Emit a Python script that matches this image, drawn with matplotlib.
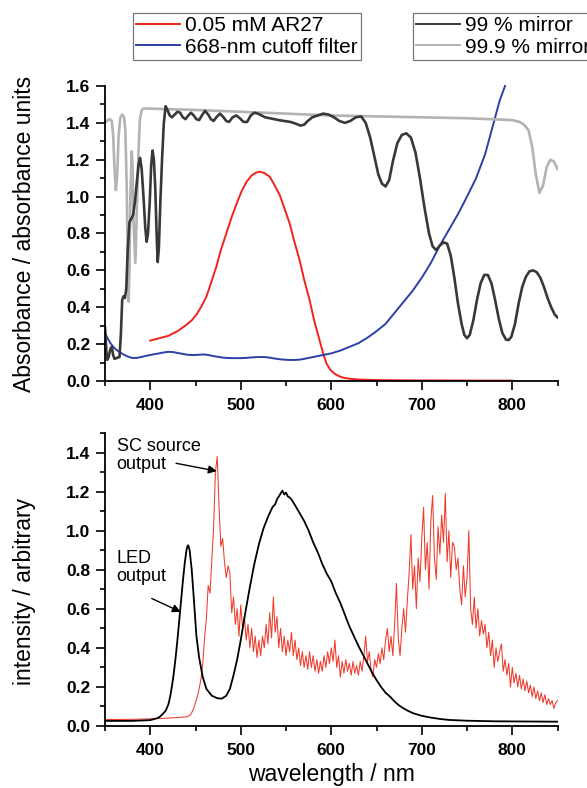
import numpy as np
import matplotlib
matplotlib.use("Agg")
import matplotlib.pyplot as plt

plt.rcParams['font.family'] = ['Liberation Sans', 'DejaVu Sans']

# ---- top panel: absorbance spectra (wavelength nm, absorbance) ----
mirror99_wl = [350, 351.5, 352.5, 354, 356, 357.5, 359, 360.5, 363, 366, 367.5, 369, 370.5, 372,
               373.5, 375, 377, 379, 381, 383, 385, 387, 388.7, 390.5, 392.5, 394.5, 396,
               397.5, 399.5, 401, 402.5, 404, 405.5, 407, 408.2, 409.5, 411, 413, 415, 417, 419,
               421.5, 424, 427, 430, 433, 436, 439, 442, 445, 448, 451, 454, 457, 460.5, 464, 467,
               470, 473, 477, 481, 484, 487, 491, 495, 499, 503, 507, 511, 515, 519, 523, 527, 532,
               537, 542, 548, 555, 561, 566, 570, 574, 579, 585, 591, 597, 603, 609, 615, 621, 627,
               633, 638, 643, 648, 652, 656, 660, 664, 668, 673, 678, 683, 688, 693, 698, 703, 708,
               712, 716, 720, 724, 728, 732, 736, 740, 744, 747, 750, 753, 757, 761, 765, 769, 773,
               777, 781, 785, 789, 793, 796, 799, 803, 807, 811, 815, 819, 823, 827, 831, 835, 839,
               843, 847, 850]
mirror99_abs = [0.29, 0.16, 0.115, 0.13, 0.175, 0.185, 0.14, 0.12, 0.125, 0.13, 0.25, 0.44, 0.46, 0.45,
                0.5, 0.7, 0.86, 0.88, 0.9, 0.97, 1.07, 1.17, 1.21, 1.15, 1.0, 0.83, 0.755,
                0.8, 0.98, 1.17, 1.25, 1.2, 1.05, 0.8, 0.645, 0.72, 0.95, 1.2, 1.4, 1.49, 1.47,
                1.44, 1.43, 1.445, 1.46, 1.455, 1.43, 1.42, 1.44, 1.455, 1.44, 1.42, 1.415, 1.44, 1.465, 1.445, 1.42,
                1.41, 1.43, 1.45, 1.43, 1.41, 1.405, 1.43, 1.44, 1.425, 1.405, 1.405, 1.44, 1.455, 1.45, 1.44, 1.43, 1.425,
                1.42, 1.415, 1.41, 1.405, 1.395, 1.385, 1.39, 1.41, 1.43, 1.44, 1.45, 1.445, 1.43, 1.41, 1.40, 1.41, 1.43,
                1.435, 1.40, 1.32, 1.21, 1.12, 1.07, 1.055, 1.09, 1.19, 1.29, 1.335, 1.343, 1.32, 1.24, 1.1, 0.94, 0.8,
                0.73, 0.71, 0.735, 0.752, 0.745, 0.68, 0.56, 0.42, 0.31, 0.25, 0.232, 0.25, 0.33, 0.44, 0.53, 0.575, 0.575,
                0.53, 0.44, 0.34, 0.26, 0.225, 0.222, 0.24, 0.31, 0.42, 0.51, 0.565, 0.595, 0.6, 0.59, 0.56, 0.51, 0.45,
                0.4, 0.36, 0.345]

mirror999_wl = [350, 352, 355, 357.5, 359, 360.5, 362, 363.5, 365, 367, 369, 371, 372.5, 374, 375, 376,
                377, 378, 379.5, 380.5, 381.5, 383.5, 385, 386.8, 388.5, 390.5, 393, 400, 450, 500,
                550, 600, 650, 700, 750, 800, 808, 813, 818, 822, 826, 830, 834, 838, 842, 846, 850]
mirror999_abs = [1.40, 1.41, 1.42, 1.41, 1.33, 1.15, 1.035, 1.12, 1.33, 1.43, 1.445, 1.43, 1.36, 1.05, 0.68, 0.43,
                 0.6, 1.0, 1.245, 1.15, 0.87, 0.64, 0.9, 1.216, 1.42, 1.47, 1.478, 1.477, 1.47, 1.46,
                 1.45, 1.44, 1.435, 1.43, 1.425, 1.415, 1.405, 1.39, 1.36, 1.27, 1.12, 1.02, 1.06, 1.16, 1.2, 1.19, 1.15]

ar27_wl = [400, 410, 420, 430, 440, 446, 451, 456, 462, 467, 473, 478, 484, 490, 495.5, 501, 506.5,
           512, 517, 521, 526, 532, 537, 543, 548, 554, 559, 565, 570, 576, 581, 587, 591, 594.6,
           599, 604, 610, 615, 621, 630, 650, 700, 800]
ar27_abs = [0.219, 0.232, 0.245, 0.27, 0.305, 0.33, 0.36, 0.40, 0.457, 0.53, 0.62, 0.71, 0.80, 0.89, 0.963, 1.03, 1.081,
            1.115, 1.13, 1.135, 1.128, 1.108, 1.065, 1.009, 0.94, 0.855, 0.76, 0.656, 0.55, 0.44, 0.33, 0.222, 0.15, 0.096,
            0.06, 0.038, 0.023, 0.016, 0.012, 0.008, 0.005, 0.003, 0.002]

filter_wl = [350, 353, 356, 360, 365, 370, 375, 380, 385, 390, 395, 400, 405, 410, 415, 420, 425, 430,
             435, 440, 445, 450, 455, 460, 465, 470, 475, 480, 485, 490, 495, 500, 505, 510, 515, 520,
             525, 530, 535, 540, 545, 550, 555, 560, 565, 570, 575, 580, 585, 590, 595, 600, 610, 620,
             630, 640, 650, 660, 670, 680, 690, 700, 710, 720, 730, 740, 750, 760, 770, 780, 786, 792]
filter_abs = [0.26, 0.23, 0.205, 0.18, 0.16, 0.145, 0.133, 0.125, 0.125, 0.13, 0.136, 0.141, 0.146, 0.15, 0.155, 0.158, 0.157, 0.152,
              0.148, 0.143, 0.141, 0.141, 0.143, 0.144, 0.14, 0.135, 0.131, 0.127, 0.125, 0.124, 0.124, 0.124, 0.125, 0.127, 0.129, 0.13,
              0.13, 0.128, 0.124, 0.12, 0.117, 0.115, 0.114, 0.114, 0.116, 0.12, 0.125, 0.13, 0.135, 0.14, 0.145, 0.15, 0.165, 0.185,
              0.205, 0.235, 0.27, 0.31, 0.37, 0.43, 0.49, 0.56, 0.64, 0.735, 0.82, 0.905, 1.0, 1.1, 1.23, 1.41, 1.52, 1.6]

# ---- bottom panel: source spectra ----
led_wl = [350, 380, 400, 407, 410, 414, 417, 420, 422, 424, 426, 428, 430, 432, 434, 436, 438, 440, 441,
          442, 443.5, 445.8, 448, 451, 454, 458, 462, 468, 474, 479, 484, 488, 492, 496, 500, 505, 510, 515,
          520, 525, 530, 535, 538, 540, 542, 544, 546, 548, 550, 552, 554, 556, 560, 565, 570, 575, 580, 585,
          590, 595, 600, 605, 610, 615, 620, 625, 630, 635, 640, 645, 650, 655, 660, 665, 670, 675, 680, 685,
          690, 700, 710, 720, 730, 750, 780, 850]
led_int = [0.026, 0.026, 0.03, 0.039, 0.045, 0.062, 0.078, 0.11, 0.15, 0.205, 0.27, 0.35, 0.44, 0.54, 0.64, 0.74, 0.83, 0.9, 0.92,
           0.925, 0.9, 0.80, 0.66, 0.46, 0.35, 0.25, 0.19, 0.155, 0.142, 0.14, 0.155, 0.19, 0.26, 0.34, 0.44, 0.58, 0.71, 0.83,
           0.93, 1.01, 1.07, 1.12, 1.135, 1.16, 1.175, 1.19, 1.205, 1.185, 1.195, 1.175, 1.17, 1.16, 1.13, 1.09, 1.05, 1.0, 0.94, 0.89,
           0.83, 0.78, 0.74, 0.68, 0.63, 0.57, 0.51, 0.46, 0.41, 0.365, 0.32, 0.275, 0.235, 0.2, 0.17, 0.15, 0.125, 0.105, 0.09, 0.077,
           0.066, 0.052, 0.043, 0.036, 0.031, 0.027, 0.024, 0.022]

sc_base_wl = [350, 380, 410, 430, 438]
sc_base_int = [0.033, 0.034, 0.038, 0.043, 0.046]
# 2 nm samples from 440 nm
sc_start, sc_step = 440, 2
sc_int = [
    0.047, 0.050, 0.055, 0.070, 0.090, 0.120, 0.150, 0.190, 0.240, 0.320,
    0.450, 0.550, 0.720, 0.680, 0.850, 1.020, 1.300, 1.380, 1.120, 0.920,
    0.960, 0.840, 0.760, 0.820, 0.780, 0.580, 0.660, 0.520, 0.600, 0.460,
    0.620, 0.500, 0.560, 0.440, 0.520, 0.400, 0.500, 0.380, 0.460, 0.350,
    0.440, 0.360, 0.460, 0.400, 0.520, 0.420, 0.580, 0.450, 0.660, 0.480,
    0.560, 0.400, 0.500, 0.380, 0.460, 0.360, 0.440, 0.380, 0.480, 0.360,
    0.440, 0.340, 0.400, 0.310, 0.380, 0.300, 0.360, 0.290, 0.380, 0.300,
    0.360, 0.280, 0.340, 0.270, 0.330, 0.280, 0.360, 0.300, 0.380, 0.320,
    0.400, 0.330, 0.440, 0.300, 0.360, 0.250, 0.330, 0.270, 0.340, 0.280,
    0.320, 0.260, 0.330, 0.270, 0.310, 0.260, 0.330, 0.280, 0.360, 0.460,
    0.330, 0.380, 0.280, 0.250, 0.340, 0.300, 0.370, 0.320, 0.400, 0.340,
    0.440, 0.500, 0.380, 0.460, 0.360, 0.520, 0.730, 0.450, 0.360, 0.500,
    0.600, 0.480, 0.640, 0.780, 0.980, 0.700, 0.820, 0.600, 0.860, 0.740,
    0.960, 1.120, 0.800, 0.940, 0.700, 1.050, 1.180, 0.860, 0.750, 1.020,
    0.880, 1.080, 0.940, 1.190, 0.840, 1.000, 0.760, 0.940, 0.920, 0.800,
    0.860, 0.700, 0.620, 0.820, 0.660, 0.760, 1.000, 0.600, 0.520, 0.660,
    0.500, 0.600, 0.460, 0.540, 0.470, 0.520, 0.400, 0.480, 0.360, 0.440,
    0.300, 0.400, 0.330, 0.380, 0.420, 0.280, 0.340, 0.260, 0.320, 0.200,
    0.300, 0.220, 0.270, 0.200, 0.260, 0.190, 0.240, 0.180, 0.230, 0.170,
    0.210, 0.150, 0.200, 0.140, 0.180, 0.130, 0.170, 0.120, 0.160, 0.110,
    0.140, 0.110, 0.130, 0.090, 0.120, 0.130,
]

x_major = [400, 500, 600, 700, 800]
x_minor = [350, 450, 550, 650, 750, 850]
top_y_major = [0.0, 0.2, 0.4, 0.6, 0.8, 1.0, 1.2, 1.4, 1.6]
bot_y_major = [0.0, 0.2, 0.4, 0.6, 0.8, 1.0, 1.2, 1.4]

sc_wl = sc_start + sc_step * np.arange(len(sc_int))
sc_all_wl = np.concatenate([sc_base_wl, sc_wl])
sc_all_int = np.concatenate([sc_base_int, sc_int])

fig = plt.figure(figsize=(5.87, 7.88), dpi=100)
ax1 = fig.add_axes([0.1789, 0.5165, 0.7709, 0.3744])
ax2 = fig.add_axes([0.1789, 0.0787, 0.7709, 0.3718])

l_red, = ax1.plot(ar27_wl, ar27_abs, color='#f2221c', lw=1.4, label='0.05 mM AR27')
l_blue, = ax1.plot(filter_wl, filter_abs, color='#2e3fa6', lw=1.4, label='668-nm cutoff filter', clip_on=False)
l_gray, = ax1.plot(mirror999_wl, mirror999_abs, color='#b3b3b3', lw=1.9, label='99.9 % mirror')
l_black, = ax1.plot(mirror99_wl, mirror99_abs, color='#383838', lw=1.9, label='99 % mirror')

ax2.plot(sc_all_wl, sc_all_int, color='#ef3a2c', lw=0.75)
ax2.plot(led_wl, led_int, color='black', lw=1.3)

for ax in (ax1, ax2):
    ax.set_xlim(350, 850)
    for s in ('top', 'right'):
        ax.spines[s].set_visible(False)
    for s in ('left', 'bottom'):
        ax.spines[s].set_linewidth(1.3)
    ax.set_xticks(x_major, [str(v) for v in x_major], fontweight='bold')
    ax.set_xticks(x_minor, minor=True)
    ax.tick_params(which='major', direction='out', length=6.5, width=1.2, labelsize=12.5, pad=5.5)
    ax.tick_params(which='minor', direction='out', length=3.5, width=1.2)
    ax.tick_params(axis='y', pad=4)

ax1.set_ylim(0, 1.6)
ax1.set_yticks(top_y_major, [f'{v:.1f}' for v in top_y_major], fontweight='bold')
ax1.set_yticks(np.array(top_y_major[:-1]) + 0.1, minor=True)
ax1.set_ylabel('Absorbance / absorbance units', fontsize=16.5)
ax1.yaxis.set_label_coords(-0.152, 0.5)

ax2.set_ylim(0, 1.5)
ax2.set_yticks(bot_y_major, [f'{v:.1f}' for v in bot_y_major], fontweight='bold')
ax2.set_yticks(np.array(bot_y_major) + 0.1, minor=True)
ax2.set_ylabel('intensity / arbitrary', fontsize=16.5)
ax2.yaxis.set_label_coords(-0.152, 0.46)
ax2.set_xlabel('wavelength / nm', fontsize=16.5)
ax2.xaxis.set_label_coords(0.5, -0.126)

# annotations
ax2.text(362.9, 1.472, 'SC source\noutput', fontsize=13, va='top', ha='left', linespacing=1.05)
ax2.annotate('', xy=(473.4, 1.305), xytext=(428.5, 1.345),
             arrowprops=dict(arrowstyle='-|>', color='black', lw=1.0, mutation_scale=12,
                             shrinkA=0, shrinkB=0))
ax2.text(362.9, 0.899, 'LED\noutput', fontsize=13, va='top', ha='left', linespacing=1.05)
ax2.annotate('', xy=(433.6, 0.584), xytext=(401.6, 0.653),
             arrowprops=dict(arrowstyle='-|>', color='black', lw=1.0, mutation_scale=12,
                             shrinkA=0, shrinkB=0))

leg_kw = dict(loc='upper left', fontsize=15, handlelength=2.1, handletextpad=0.25,
              borderpad=0.15, labelspacing=0.12, borderaxespad=0, fancybox=False,
              framealpha=1, edgecolor='#777777')
leg1 = fig.legend([l_red, l_blue], ['0.05 mM AR27', '668-nm cutoff filter'],
                  bbox_to_anchor=(0.2266, 0.9835), **leg_kw)
leg2 = fig.legend([l_black, l_gray], ['99 % mirror', '99.9 % mirror'],
                  bbox_to_anchor=(0.7036, 0.9835), **leg_kw)
for lg in (leg1, leg2):
    lg.get_frame().set_linewidth(0.9)
    for ln in lg.get_lines():
        ln.set_linewidth(1.4)

fig.savefig('out.png', dpi=100)
